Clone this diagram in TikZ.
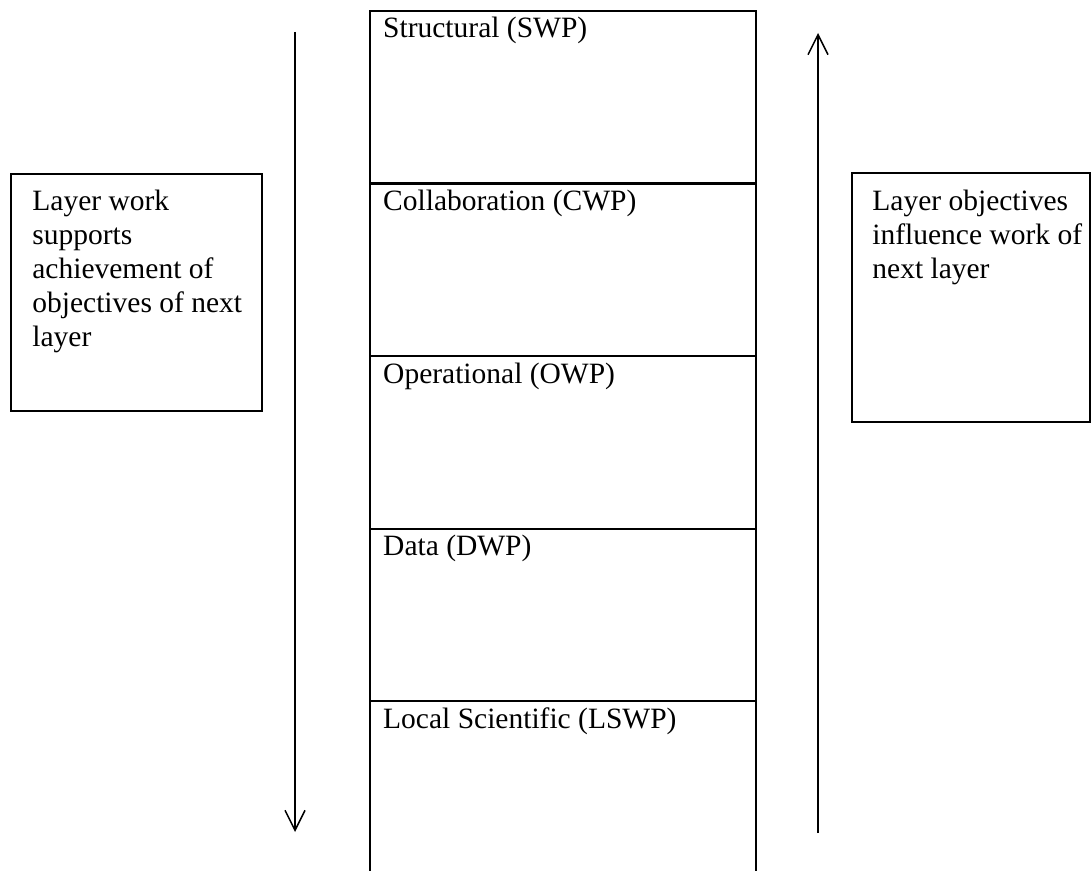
\documentclass[tikz,border=0pt]{standalone}
\usepackage{fontspec}
\setmainfont{Liberation Serif}
\usetikzlibrary{arrows.meta,positioning}
\begin{document}
\begin{tikzpicture}[x=0.5pt,y=-0.5pt,>={Straight Barb[length=10pt,width=10pt]},
    font=\fontsize{14.75}{17}\selectfont,
    cell/.style={draw,line width=1.2pt,minimum width=193pt,minimum height=86.25pt,inner sep=0pt},
    sidebox/.style={draw,line width=0.9pt,inner sep=0pt},
    celltext/.style={anchor=base west,inner sep=0pt},
    boxtext/.style={anchor=north west,inner sep=0pt,align=left}]
                \clip (0,0) rectangle (1091,871);
                \fill[white] (0,0) rectangle (1091,871);
                % layers of the column
                \foreach \n/\t [count=\i] in {swp/Structural (SWP),cwp/Collaboration (CWP),owp/Operational (OWP),dwp/Data (DWP),lswp/Local Scientific (LSWP)}{
                    \node[cell,anchor=north] (\n) at (563,{10+172.5*(\i-1)}) {};
                    \node[celltext] (\n-t) at ([xshift=7pt,yshift=-14pt]\n.north west) {\t};
                }
                % side boxes
                \node[sidebox,anchor=north west,minimum width=125.5pt,minimum height=118.5pt] (work) at (10,173) {};
                \node[boxtext] (work-t) at (32,190) {Layer work\\supports\\achievement of\\objectives of next\\layer};
                \node[sidebox,anchor=north west,minimum width=119pt,minimum height=124.5pt] (obj) at (851,172) {};
                \node[boxtext] (obj-t) at (872,190) {Layer objectives\\influence work of\\next layer};
                % arrows
                \coordinate (down-a) at (295,32);
                \coordinate (down-b) at (295,832);
                \coordinate (up-a) at (818,833);
                \coordinate (up-b) at (818,33);
                \draw[->,line width=0.75pt] (down-a)--(down-b);
                \draw[->,line width=0.75pt] (up-a)--(up-b);
            \end{tikzpicture}
\end{document}
